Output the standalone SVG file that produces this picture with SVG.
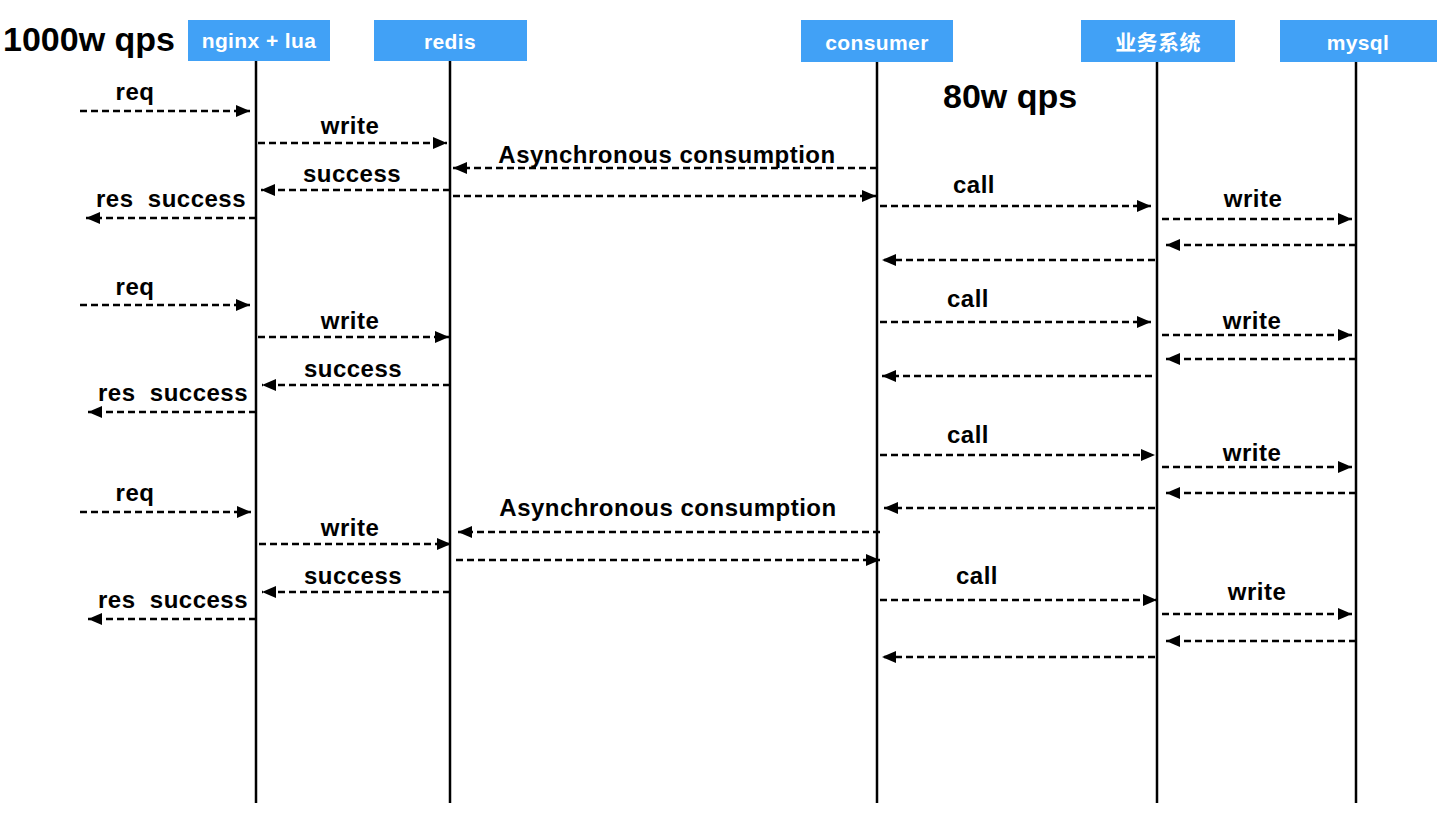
<svg xmlns="http://www.w3.org/2000/svg" width="1446" height="830" viewBox="0 0 1446 830">
<defs>
<style>
.box{fill:#41A1F6}
.hd{font-family:"Liberation Sans",Arial,"Noto Sans CJK SC",sans-serif;font-weight:bold;font-size:21px;letter-spacing:0.4px;fill:#fff;text-anchor:middle}
.life{stroke:#000;stroke-width:2.5}
.msg{stroke:#000;stroke-width:2.5;stroke-dasharray:7 4;fill:none;marker-end:url(#ah)}
.lb{font-family:"Liberation Sans",Arial,sans-serif;font-weight:bold;font-size:24px;letter-spacing:0.5px;fill:#000;text-anchor:middle;white-space:pre}
.big{font-family:"Liberation Sans",Arial,sans-serif;font-weight:bold;font-size:34px;fill:#000}
</style>
<marker id="ah" viewBox="0 0 14 12" refX="14" refY="6" markerWidth="14" markerHeight="12" markerUnits="userSpaceOnUse" orient="auto">
<path d="M0,0 L14,6 L0,12 Z" fill="#000"/>
</marker>
</defs>
<rect width="1446" height="830" fill="#fff"/>
<text class="big" x="3" y="51">1000w qps</text>
<text class="big" x="943" y="108">80w qps</text>
<g id="nginx">
<rect class="box" x="188" y="20" width="142" height="41"/>
<text class="hd" x="259" y="48">nginx + lua</text>
<line class="life" x1="256" y1="61" x2="256" y2="803"/>
</g>
<g id="redis">
<rect class="box" x="374" y="20" width="153" height="41"/>
<text class="hd" x="450" y="49">redis</text>
<line class="life" x1="450" y1="61" x2="450" y2="803"/>
</g>
<g id="consumer">
<rect class="box" x="801" y="20" width="152" height="42"/>
<text class="hd" x="877" y="50">consumer</text>
<line class="life" x1="877" y1="62" x2="877" y2="803"/>
</g>
<g id="biz">
<rect class="box" x="1081" y="20" width="154" height="42"/>
<text class="hd" x="1158" y="50">业务系统</text>
<line class="life" x1="1157" y1="62" x2="1157" y2="803"/>
</g>
<g id="mysql">
<rect class="box" x="1280" y="20" width="157" height="42"/>
<text class="hd" x="1358" y="50">mysql</text>
<line class="life" x1="1356" y1="62" x2="1356" y2="803"/>
</g>
<g id="connectors">
<line class="msg" x1="80" y1="111" x2="250" y2="111"/>
<line class="msg" x1="258" y1="143" x2="447" y2="143"/>
<line class="msg" x1="877" y1="168" x2="453" y2="168"/>
<line class="msg" x1="450" y1="190" x2="261" y2="190"/>
<line class="msg" x1="453" y1="196" x2="876" y2="196"/>
<line class="msg" x1="256" y1="218" x2="86" y2="218"/>
<line class="msg" x1="880" y1="206" x2="1151" y2="206"/>
<line class="msg" x1="1162" y1="219" x2="1352" y2="219"/>
<line class="msg" x1="1356" y1="245" x2="1166" y2="245"/>
<line class="msg" x1="1155" y1="260" x2="882" y2="260"/>
<line class="msg" x1="80" y1="305" x2="250" y2="305"/>
<line class="msg" x1="258" y1="337" x2="449" y2="337"/>
<line class="msg" x1="450" y1="385" x2="262" y2="385"/>
<line class="msg" x1="256" y1="412" x2="88" y2="412"/>
<line class="msg" x1="880" y1="322" x2="1151" y2="322"/>
<line class="msg" x1="1162" y1="335" x2="1352" y2="335"/>
<line class="msg" x1="1356" y1="359" x2="1166" y2="359"/>
<line class="msg" x1="1152" y1="376" x2="882" y2="376"/>
<line class="msg" x1="880" y1="455" x2="1155" y2="455"/>
<line class="msg" x1="1162" y1="467" x2="1352" y2="467"/>
<line class="msg" x1="1356" y1="493" x2="1166" y2="493"/>
<line class="msg" x1="1155" y1="508" x2="884" y2="508"/>
<line class="msg" x1="80" y1="512" x2="251" y2="512"/>
<line class="msg" x1="880" y1="532" x2="458" y2="532"/>
<line class="msg" x1="259" y1="544" x2="451" y2="544"/>
<line class="msg" x1="456" y1="560" x2="880" y2="560"/>
<line class="msg" x1="450" y1="592" x2="262" y2="592"/>
<line class="msg" x1="256" y1="619" x2="88" y2="619"/>
<line class="msg" x1="880" y1="600" x2="1157" y2="600"/>
<line class="msg" x1="1162" y1="614" x2="1352" y2="614"/>
<line class="msg" x1="1356" y1="641" x2="1166" y2="641"/>
<line class="msg" x1="1155" y1="657" x2="882" y2="657"/>
</g>
<g id="labels">
<text class="lb" x="135" y="100">req</text>
<text class="lb" x="350" y="134">write</text>
<text class="lb" x="667" y="163">Asynchronous consumption</text>
<text class="lb" x="352" y="182">success</text>
<text class="lb" x="171" y="207" xml:space="preserve">res  success</text>
<text class="lb" x="974" y="193">call</text>
<text class="lb" x="1253" y="207">write</text>

<text class="lb" x="135" y="295">req</text>
<text class="lb" x="350" y="329">write</text>
<text class="lb" x="353" y="377">success</text>
<text class="lb" x="173" y="401" xml:space="preserve">res  success</text>
<text class="lb" x="968" y="307">call</text>
<text class="lb" x="1252" y="329">write</text>

<text class="lb" x="968" y="443">call</text>
<text class="lb" x="1252" y="461">write</text>

<text class="lb" x="135" y="501">req</text>
<text class="lb" x="668" y="516">Asynchronous consumption</text>
<text class="lb" x="350" y="536">write</text>
<text class="lb" x="353" y="584">success</text>
<text class="lb" x="173" y="608" xml:space="preserve">res  success</text>
<text class="lb" x="977" y="584">call</text>
<text class="lb" x="1257" y="600">write</text>
</g>
</svg>
